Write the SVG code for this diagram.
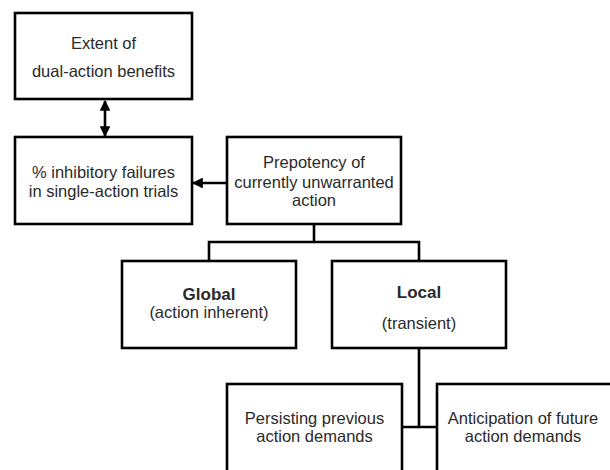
<svg xmlns="http://www.w3.org/2000/svg" width="610" height="470" viewBox="0 0 610 470">
<defs>
<style>
.box{fill:#fff;stroke:#000;stroke-width:2.6}
.ln{fill:none;stroke:#000;stroke-width:2.6}
.t{font-family:"Liberation Sans",Arial,sans-serif;font-size:16.5px;fill:#2a2a2a;text-anchor:middle}
.b{font-weight:bold;font-size:17px}
</style>
<marker id="ah" viewBox="0 0 10 10" refX="9" refY="5" markerWidth="4.2" markerHeight="4.2" orient="auto-start-reverse" markerUnits="strokeWidth">
<path d="M0,0 L10,5 L0,10 z" fill="#000"/>
</marker>
</defs>
<rect width="610" height="470" fill="#fff"/>
<g id="connectors">
<line class="ln" x1="105" y1="101" x2="105" y2="136" marker-start="url(#ah)" marker-end="url(#ah)"/>
<line class="ln" x1="227" y1="183" x2="193" y2="183" marker-end="url(#ah)"/>
<polyline class="ln" points="314,224 314,242"/>
<polyline class="ln" points="209,261 209,242 419,242 419,261"/>
<polyline class="ln" points="419,348 419,427"/>
<polyline class="ln" points="402,427 437,427"/>
</g>
<g id="extent">
<rect class="box" x="15" y="13" width="177" height="86"/>
<text class="t" x="103.5" y="49">Extent of</text>
<text class="t" x="103.5" y="77">dual-action benefits</text>
</g>
<g id="failures">
<rect class="box" x="15" y="137" width="177" height="87"/>
<text class="t" x="103.5" y="178">% inhibitory failures</text>
<text class="t" x="103.5" y="197">in single-action trials</text>
</g>
<g id="prepotency">
<rect class="box" x="227" y="137" width="174" height="87"/>
<text class="t" x="314" y="168">Prepotency of</text>
<text class="t" x="314" y="188">currently unwarranted</text>
<text class="t" x="314" y="206">action</text>
</g>
<g id="global">
<rect class="box" x="122" y="261" width="174" height="87"/>
<text class="t b" x="209" y="300">Global</text>
<text class="t" x="209" y="318">(action inherent)</text>
</g>
<g id="local">
<rect class="box" x="332" y="261" width="174" height="87"/>
<text class="t b" x="419" y="298">Local</text>
<text class="t" x="419" y="329">(transient)</text>
</g>
<g id="persisting">
<rect class="box" x="227" y="384" width="175" height="100"/>
<text class="t" x="314.5" y="424">Persisting previous</text>
<text class="t" x="314.5" y="442">action demands</text>
</g>
<g id="anticipation">
<rect class="box" x="437" y="384" width="180" height="100"/>
<text class="t" x="523" y="424">Anticipation of future</text>
<text class="t" x="523" y="442">action demands</text>
</g>
</svg>
